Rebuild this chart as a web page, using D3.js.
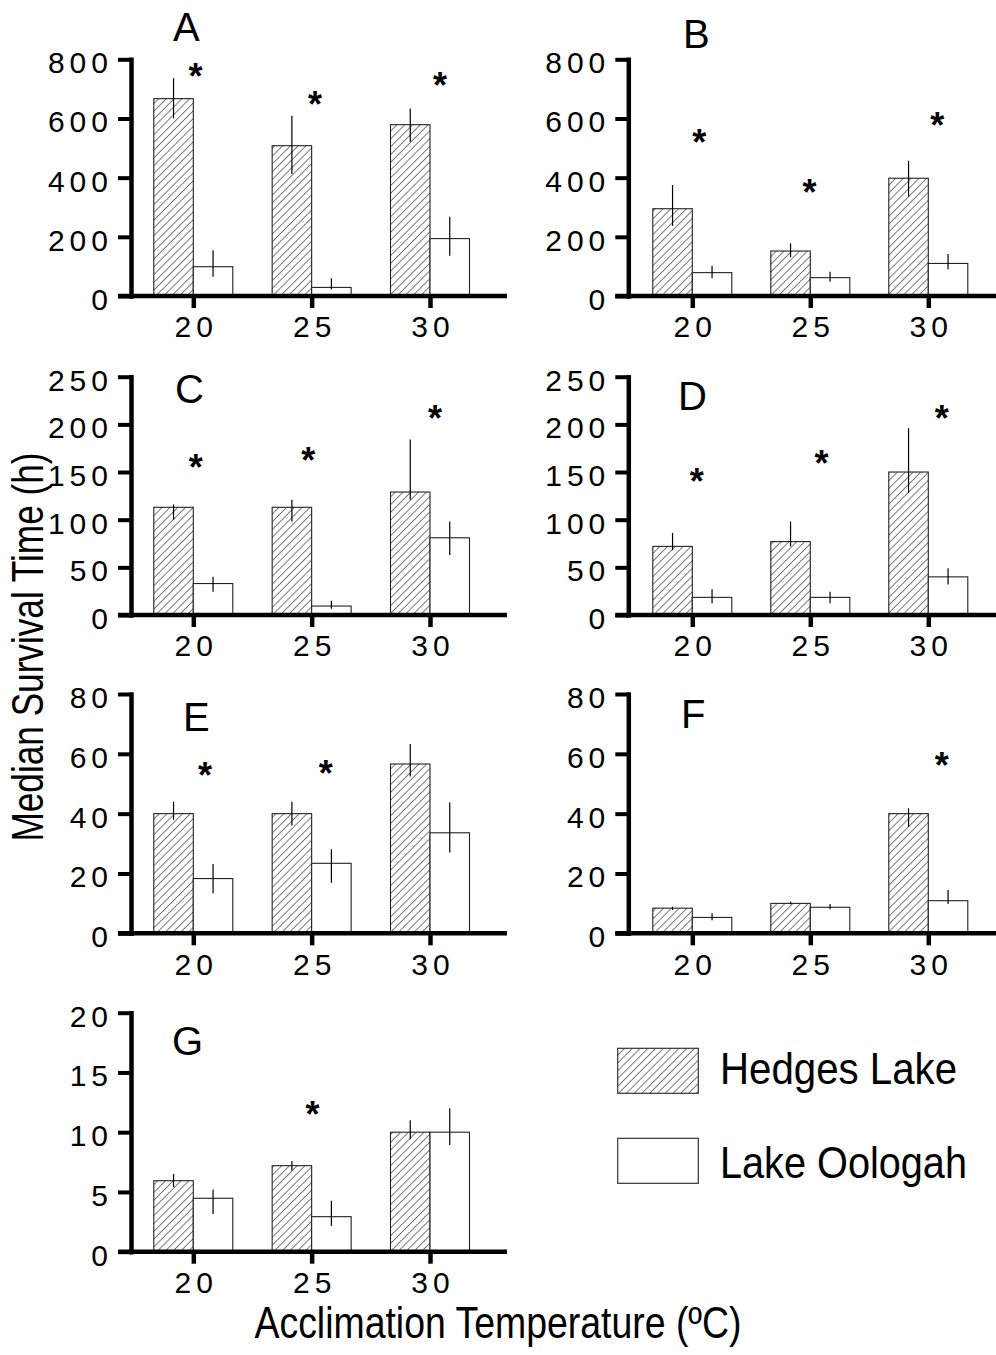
<!DOCTYPE html>
<html>
<head>
<meta charset="utf-8">
<script src="https://cdn.jsdelivr.net/npm/d3@7"></script>
<style>
  body { margin: 0; background: #fff; }
  svg { display: block; font-family: "Liberation Sans", Arial, sans-serif; }
</style>
</head>
<body>
<div id="chart"></div>
<script>
// acclimation temperatures (x categories)
const temps = [20, 25, 30];
const panelNames = ['A', 'B', 'C', 'D', 'E', 'F', 'G'];
const yMax = [800, 800, 250, 250, 80, 80, 20];
const yStep = [200, 200, 50, 50, 20, 20, 5];

// Hedges Lake: median survival time (h) and error bar ends
const hedgesMedian = [
    [667, 508, 579],
    [295, 152, 398],
    [113, 113, 129],
    [72, 77, 150],
    [40, 40, 56.6],
    [8.4, 10, 40],
    [5.94, 7.2, 10]
];
const hedgesHi = [
    [736, 609, 634],
    [375, 178, 457],
    [116, 121, 184],
    [86, 98, 196],
    [44, 44, 63.3],
    [8.9, 10.6, 41.8],
    [6.5, 7.6, 11]
];
const hedgesLo = [
    [600, 412, 521],
    [237, 131, 336],
    [100, 98, 121],
    [68, 72, 128],
    [38, 36, 52.4],
    [7.8, 9.7, 35.6],
    [5.4, 6.8, 9.4]
];

// Lake Oologah
const oologahMedian = [
    [99, 29, 194],
    [79, 62, 110],
    [33, 9.4, 81],
    [18.5, 18.5, 40],
    [18.3, 23.4, 33.6],
    [5.3, 8.7, 10.9],
    [4.47, 2.93, 10]
];
const oologahHi = [
    [155, 60, 268],
    [102, 82, 142],
    [40, 15, 98],
    [27, 24.5, 49],
    [23.2, 28.1, 43.7],
    [6.7, 9.8, 14.5],
    [5.2, 4.27, 12]
];
const oologahLo = [
    [65, 22, 136],
    [60, 48, 90],
    [24.5, 6.6, 63],
    [12.3, 12.3, 32],
    [13.4, 16.9, 27],
    [4.4, 8, 9.8],
    [3.15, 2.15, 8.93]
];

// significance asterisks: [temperature, value]
const sigMarks = [
    [[20.09, 767], [25.14, 673], [30.42, 737]],
    [[20.3, 544], [24.97, 375], [30.38, 600]],
    [[20.1, 163], [24.86, 170], [30.21, 214]],
    [[20.19, 148], [25.47, 167], [30.57, 214]],
    [[20.49, 55.2], [25.6, 55.9]],
    [[30.57, 58.5]],
    [[25.04, 12.1]]
];

const seriesNames = ['Hedges Lake', 'Lake Oologah'];

// ---- layout ----
const width = 996, height = 1355;
const cols = [
    { axisX: 131, t20: 193.3, t30: 430, end: 507 },
    { axisX: 628.3, t20: 692.3, t30: 928.3, end: 1000 }
];
const rows = [
    { top: 59.3, base: 296 },
    { top: 376.7, base: 615 },
    { top: 694, base: 933.3 },
    { top: 1012.7, base: 1251.7 }
];
const letterPos = [[173, 41], [683, 48], [175, 403], [678, 410], [183, 731], [681, 728], [172, 1055]];
const barW = 39.5;
const tickFont = 30, tickSpacing = 5;

const svg = d3.select('#chart').append('svg')
    .attr('width', width)
    .attr('height', height);

svg.append('rect').attr('width', width).attr('height', height).attr('fill', '#fff');

// diagonal hatch for Hedges Lake
const pattern = svg.append('defs').append('pattern')
    .attr('id', 'hatch')
    .attr('patternUnits', 'userSpaceOnUse')
    .attr('width', 5.5)
    .attr('height', 5.5)
    .attr('patternTransform', 'rotate(45)');
pattern.append('rect').attr('width', 5.5).attr('height', 5.5).attr('fill', '#fff');
pattern.append('line')
    .attr('x1', 0).attr('y1', 0).attr('x2', 0).attr('y2', 5.5)
    .attr('stroke', '#222')
    .attr('stroke-width', 1.2);

panelNames.forEach((name, i) => {
    const col = cols[i % 2];
    const row = rows[Math.floor(i / 2)];

    const x = d3.scaleLinear().domain([20, 30]).range([col.t20, col.t30]);
    const y = d3.scaleLinear().domain([0, yMax[i]]).range([row.base, row.top]);

    const g = svg.append('g').attr('class', 'panel');

    // bars
    temps.forEach((t, j) => {
        g.append('rect')
            .attr('x', x(t) - barW)
            .attr('y', y(hedgesMedian[i][j]))
            .attr('width', barW)
            .attr('height', y(0) - y(hedgesMedian[i][j]))
            .attr('fill', 'url(#hatch)')
            .attr('stroke', '#222')
            .attr('stroke-width', 1.1);
        g.append('rect')
            .attr('x', x(t))
            .attr('y', y(oologahMedian[i][j]))
            .attr('width', barW)
            .attr('height', y(0) - y(oologahMedian[i][j]))
            .attr('fill', '#fff')
            .attr('stroke', '#222')
            .attr('stroke-width', 1.1);

        // error bars (no caps)
        g.append('line')
            .attr('x1', x(t) - barW / 2).attr('x2', x(t) - barW / 2)
            .attr('y1', y(hedgesHi[i][j])).attr('y2', y(hedgesLo[i][j]))
            .attr('stroke', '#000').attr('stroke-width', 1.2);
        g.append('line')
            .attr('x1', x(t) + barW / 2).attr('x2', x(t) + barW / 2)
            .attr('y1', y(oologahHi[i][j])).attr('y2', y(oologahLo[i][j]))
            .attr('stroke', '#000').attr('stroke-width', 1.2);
    });

    // y axis
    const yAxis = g.append('g')
        .attr('transform', `translate(${col.axisX},0)`)
        .call(d3.axisLeft(y)
            .tickValues(d3.range(0, yMax[i] + 1, yStep[i]))
            .tickSize(13)
            .tickSizeOuter(0)
            .tickPadding(5));
    yAxis.select('.domain')
        .attr('stroke', '#000')
        .attr('stroke-width', 4.5)
        .attr('stroke-linecap', 'square');
    yAxis.selectAll('.tick line').attr('stroke', '#000').attr('stroke-width', 4);
    yAxis.selectAll('.tick text')
        .attr('dy', '0.45em')
        .attr('fill', '#000')
        .style('font-size', tickFont + 'px')
        .style('letter-spacing', tickSpacing + 'px');

    // x axis baseline
    g.append('line')
        .attr('x1', col.axisX - 13).attr('x2', col.end)
        .attr('y1', row.base).attr('y2', row.base)
        .attr('stroke', '#000')
        .attr('stroke-width', 4.5);

    const xAxis = g.append('g')
        .attr('transform', `translate(0,${row.base})`)
        .call(d3.axisBottom(x)
            .tickValues(temps)
            .tickFormat(d3.format('d'))
            .tickSize(12)
            .tickSizeOuter(0)
            .tickPadding(8));
    xAxis.select('.domain').remove();
    xAxis.selectAll('.tick line').attr('stroke', '#000').attr('stroke-width', 4.5);
    xAxis.selectAll('.tick text')
        .attr('x', tickSpacing / 2)
        .attr('fill', '#000')
        .style('font-size', tickFont + 'px')
        .style('letter-spacing', tickSpacing + 'px');

    // significance asterisks
    g.selectAll('.sig')
        .data(sigMarks[i])
        .enter()
        .append('text')
        .attr('class', 'sig')
        .attr('x', d => x(d[0]))
        .attr('y', d => y(d[1]) + 20)
        .attr('text-anchor', 'middle')
        .style('font-size', '36px')
        .style('font-weight', 'bold')
        .text('*');

    // panel letter
    g.append('text')
        .attr('x', letterPos[i][0])
        .attr('y', letterPos[i][1])
        .style('font-size', '40px')
        .text(name);
});

// legend
const legend = svg.append('g').attr('class', 'legend');
const legendY = [1048.3, 1138.3];
const legendTextLen = [237, 247];
seriesNames.forEach((s, k) => {
    legend.append('rect')
        .attr('x', 617.7)
        .attr('y', legendY[k])
        .attr('width', 80.6)
        .attr('height', 45)
        .attr('fill', k === 0 ? 'url(#hatch)' : '#fff')
        .attr('stroke', '#333')
        .attr('stroke-width', 1.2);
    legend.append('text')
        .attr('x', 720)
        .attr('y', legendY[k] + (k === 0 ? 35.7 : 40))
        .attr('textLength', legendTextLen[k])
        .attr('lengthAdjust', 'spacingAndGlyphs')
        .style('font-size', '44px')
        .text(s);
});

// axis titles
svg.append('text')
    .attr('transform', 'translate(43.3,647) rotate(-90)')
    .attr('text-anchor', 'middle')
    .attr('textLength', 389)
    .attr('lengthAdjust', 'spacingAndGlyphs')
    .style('font-size', '44px')
    .text('Median Survival Time (h)');

svg.append('text')
    .attr('x', 498)
    .attr('y', 1338.3)
    .attr('text-anchor', 'middle')
    .attr('textLength', 487)
    .attr('lengthAdjust', 'spacingAndGlyphs')
    .style('font-size', '44px')
    .text('Acclimation Temperature (ºC)');
</script>
</body>
</html>
